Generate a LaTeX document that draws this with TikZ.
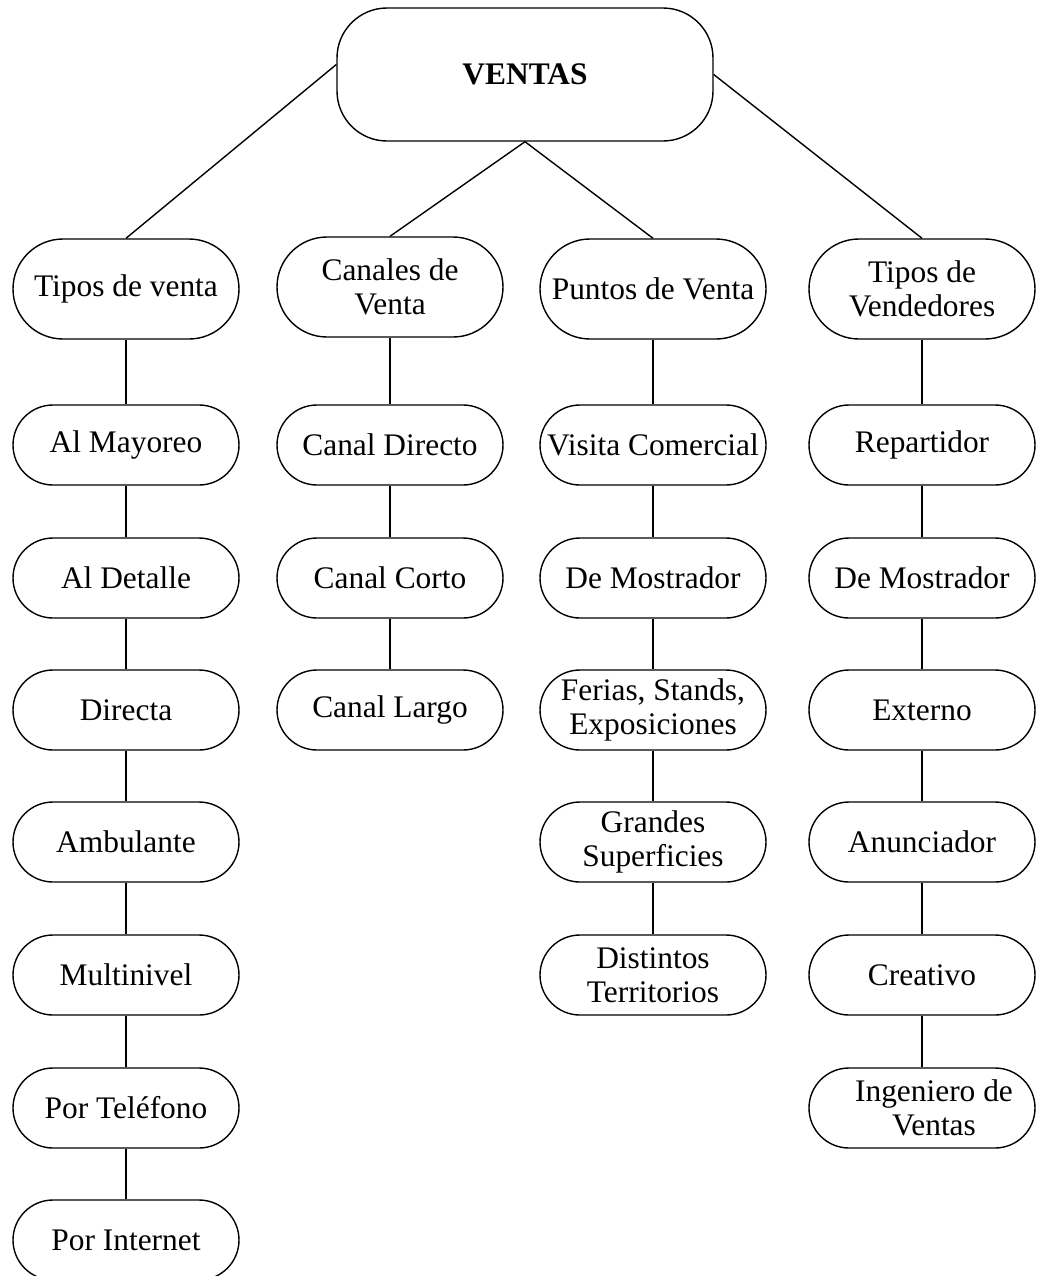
\documentclass[tikz,border=0pt]{standalone}
\usepackage{fontspec}
\setmainfont{Liberation Serif}
\newcommand{\letra}{\fontsize{15.7pt}{17pt}\selectfont}
\tikzset{
  caja/.style={draw, line width=0.7pt, rounded corners=20pt, minimum width=113pt, minimum height=40pt, inner sep=1pt, align=center},
  cabeza/.style={caja, rounded corners=25pt, minimum height=50pt},
  raiz/.style={draw, line width=0.7pt, rounded corners=25pt, minimum width=188pt, minimum height=66.5pt, font=\letra\bfseries}
}
\begin{document}
\begin{tikzpicture}[x=0.5pt, y=-0.5pt, line width=0.7pt, font=\letra]
	\useasboundingbox (0,0) rectangle (1037,1276);
	\node[raiz] (R) at (525,74.5) {VENTAS};
	
	\node[cabeza] (TA) at (126,289) {Tipos de venta};
	\node[caja] (TB) at (126,445) {Al Mayoreo};
	\node[caja] (TC) at (126,578) {Al Detalle};
	\node[caja] (TD) at (126,710) {Directa};
	\node[caja] (TE) at (126,842) {Ambulante};
	\node[caja] (TF) at (126,975) {Multinivel};
	\node[caja] (TG) at (126,1108) {Por Teléfono};
	\node[caja] (TH) at (126,1240) {Por Internet};
	
	\node[cabeza] (CA) at (390,287) {Canales de\\Venta};
	\node[caja] (CB) at (390,445) {Canal Directo};
	\node[caja] (CC) at (390,578) {Canal Corto};
	\node[caja] (CD) at (390,710) {Canal Largo};
	
	\node[cabeza] (PA) at (653,289) {Puntos de Venta};
	\node[caja] (PB) at (653,445) {Visita Comercial};
	\node[caja] (PC) at (653,578) {De Mostrador};
	\node[caja] (PD) at (653,710) {Ferias, Stands,\\Exposiciones};
	\node[caja] (PE) at (653,842) {Grandes\\Superficies};
	\node[caja] (PF) at (653,975) {Distintos\\Territorios};
	
	\node[cabeza] (VA) at (922,289) {Tipos de\\Vendedores};
	\node[caja] (VB) at (922,445) {Repartidor};
	\node[caja] (VC) at (922,578) {De Mostrador};
	\node[caja] (VD) at (922,710) {Externo};
	\node[caja] (VE) at (922,842) {Anunciador};
	\node[caja] (VF) at (922,975) {Creativo};
	\node[caja] (VG) at (922,1108) {\hspace*{12pt}Ingeniero de\\\hspace*{12pt}Ventas};
	
	\draw ([yshift=5pt]R.west)--(TA.north);
	\draw (R.south)--(CA.north);
	\draw (R.south)--(PA.north);
	\draw (R.east)--(VA.north);
	
	\draw (TA)--(TB);
	\draw (TB)--(TC);
	\draw (TC)--(TD);
	\draw (TD)--(TE);
	\draw (TE)--(TF);
	\draw (TF)--(TG);
	\draw (TG)--(TH);
	
	\draw (CA)--(CB);
	\draw (CB)--(CC);
	\draw (CC)--(CD);
	
	\draw (PA)--(PB);
	\draw (PB)--(PC);
	\draw (PC)--(PD);
	\draw (PD)--(PE);
	\draw (PE)--(PF);
	
	\draw (VA)--(VB);
	\draw (VB)--(VC);
	\draw (VC)--(VD);
	\draw (VD)--(VE);
	\draw (VE)--(VF);
	\draw (VF)--(VG);
\end{tikzpicture}
\end{document}
